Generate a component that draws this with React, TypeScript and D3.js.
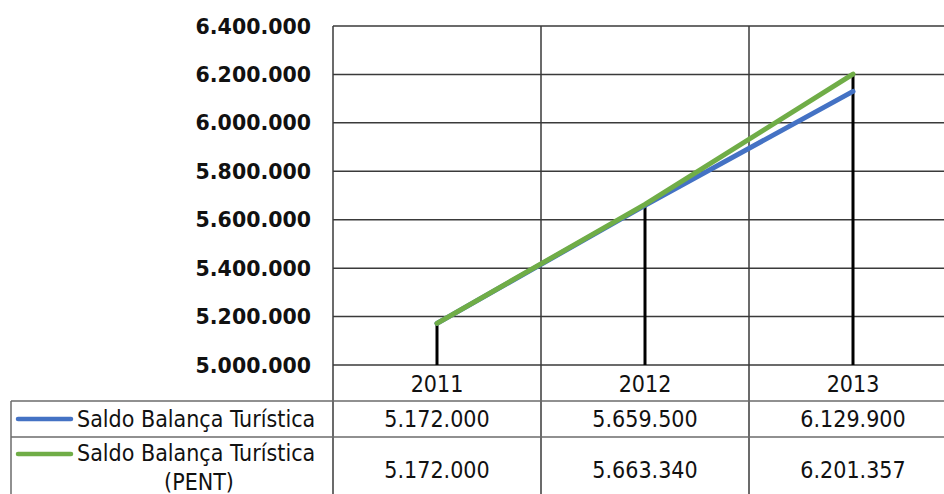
import React from "react";
import * as d3 from "d3";

const years = ["2011", "2012", "2013"];
const saldo = [5172000, 5659500, 6129900];
const saldoPent = [5172000, 5663340, 6201357];
const yTicks = [5000000, 5200000, 5400000, 5600000, 5800000, 6000000, 6200000, 6400000];
const seriesNames = ["Saldo Balança Turística", "Saldo Balança Turística"];
const seriesColors = ["#4472C4", "#70AD47"];

const W = 944;
const H = 494;
const plot = {left: 333, top: 26, right: 957, bottom: 365};
const tableLeft = 11;
const rowTops = [401, 437, 505];

const fmt = (v: number) => d3.format(",")(v).replace(/,/g, ".");

const App = () => {
    const x = d3.scaleBand().domain(years).range([plot.left, plot.right]).padding(0);
    const y = d3.scaleLinear().domain([5000000, 6400000]).range([plot.bottom, plot.top]);
    const cx = (yr: string) => (x(yr) as number) + x.bandwidth() / 2;

    const line = d3
        .line<number>()
        .x((d, i) => cx(years[i]))
        .y((d) => y(d));

    const condensed = "'DejaVu Sans Condensed', 'DejaVu Sans', sans-serif";
    const grid = "#3a3a3a";
    const border = "#6b6b6b";

    return (
        <svg width={W} height={H} style={{position: "fixed", left: 0, top: 0}}
             fontFamily={condensed}>
            <rect width={W} height={H} fill="#fff"/>

            {/* horizontal gridlines + tick labels */}
            {yTicks.map((t) => (
                <g key={t}>
                    <line x1={plot.left} x2={W} y1={y(t)} y2={y(t)} stroke={grid} strokeWidth={1.5}/>
                    <text x={311} y={y(t) + 7.5} textAnchor="end" fontFamily="'DejaVu Sans', sans-serif"
                          fontWeight="bold" fontSize={20.5} fill="#111">{fmt(t)}</text>
                </g>
            ))}

            {/* category boundaries run from top of plot through table */}
            {years.map((yr) => (
                <line key={yr} x1={x(yr)} x2={x(yr)} y1={plot.top} y2={H}
                      stroke={grid} strokeWidth={1.5}/>
            ))}

            {/* table frame */}
            {rowTops.map((r) => (
                <line key={r} x1={tableLeft} x2={W} y1={r} y2={r} stroke={border} strokeWidth={1.5}/>
            ))}
            <line x1={tableLeft} x2={tableLeft} y1={rowTops[0]} y2={H} stroke={border} strokeWidth={1.5}/>

            {/* drop lines */}
            {years.map((yr, i) => (
                <line key={yr} x1={cx(yr)} x2={cx(yr)} y1={plot.bottom}
                      y2={y(Math.max(saldo[i], saldoPent[i]))} stroke="#000" strokeWidth={3}/>
            ))}

            {/* series */}
            {[saldo, saldoPent].map((s, k) => (
                <path key={k} d={line(s) as string} fill="none" stroke={seriesColors[k]}
                      strokeWidth={5} strokeLinecap="round"/>
            ))}

            {/* x labels */}
            {years.map((yr) => (
                <text key={yr} x={cx(yr)} y={392} textAnchor="middle" fontSize={23} fill="#111">{yr}</text>
            ))}

            {/* legend column */}
            {seriesColors.map((c, k) => (
                <line key={c} x1={18} x2={71} y1={k === 0 ? 419 : 454} y2={k === 0 ? 419 : 454}
                      stroke={c} strokeWidth={4.5} strokeLinecap="round"/>
            ))}
            <text x={77} y={427} fontSize={23} fill="#111">{seriesNames[0]}</text>
            <text x={77} y={461} fontSize={23} fill="#111">{seriesNames[1]}</text>
            <text x={199} y={490} fontSize={23} fill="#111" textAnchor="middle">(PENT)</text>

            {/* values */}
            {years.map((yr, i) => (
                <g key={yr}>
                    <text x={cx(yr)} y={427} textAnchor="middle" fontSize={23} fill="#111">{fmt(saldo[i])}</text>
                    <text x={cx(yr)} y={478} textAnchor="middle" fontSize={23} fill="#111">{fmt(saldoPent[i])}</text>
                </g>
            ))}
        </svg>
    );
};

export default App;
